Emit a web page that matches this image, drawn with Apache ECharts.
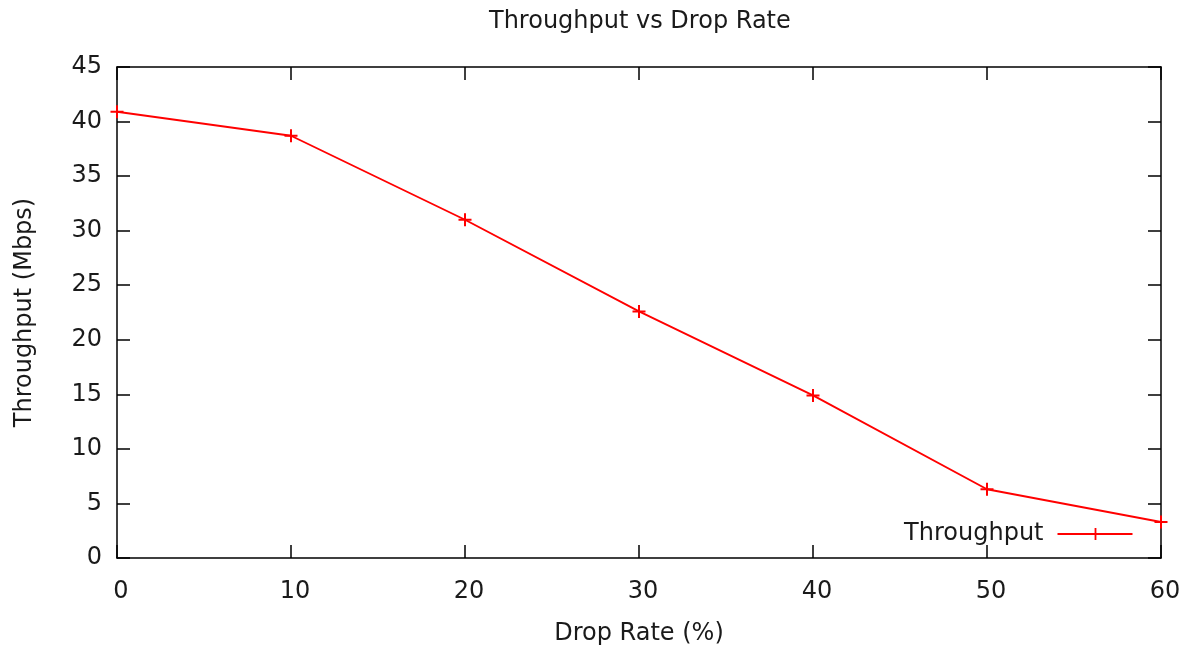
<!DOCTYPE html>
<html>
<head>
<meta charset="utf-8">
<script src="https://cdn.jsdelivr.net/npm/echarts@6/dist/echarts.min.js"></script>
<style>html,body{margin:0;padding:0;background:#fff;}#c{width:1187px;height:646px;}</style>
</head>
<body>
<div id="c"></div>
<script>
const dropRates = [0, 10, 20, 30, 40, 50, 60];
const throughput = [40.9, 38.7, 31.0, 22.6, 14.9, 6.3, 3.3];
const seriesName = 'Throughput';
const titleText = 'Throughput vs Drop Rate';
const xName = 'Drop Rate (%)';
const yName = 'Throughput (Mbps)';

const FONT = 'DejaVu Sans';
const FS = 24;
const TXT = '#1a1a1a';
const plus = 'path://M5,0 L5,10 M0,5 L10,5';
const legendIcon = 'path://M0,6 L75,6 M38,0 L38,12';
const chart = echarts.init(document.getElementById('c'));
const axisLine = { show: true, onZero: false, lineStyle: { color: '#000', width: 1.5 } };
const tick = { show: true, inside: true, length: 13, lineStyle: { color: '#000', width: 1.5 } };
chart.setOption({
  animation: false,
  backgroundColor: '#fff',
  title: { text: titleText, left: 484, top: 5, textStyle: { fontFamily: FONT, fontSize: FS, fontWeight: 'normal', color: TXT } },
  grid: { left: 117, right: 26, top: 67, bottom: 88, outerBoundsMode: 'none', containLabel: false },
  legend: {
    right: 47, bottom: 95, align: 'right', orient: 'vertical',
    itemWidth: 75, itemHeight: 12,
    textStyle: { fontFamily: FONT, fontSize: FS, color: TXT, padding: [0, 9, 0, 0] },
    data: [{ name: seriesName, icon: legendIcon,
      itemStyle: { color: 'none', borderColor: '#ff0000', borderWidth: 1.8 } }]
  },
  xAxis: [
    { type: 'value', position: 'bottom', min: 0, max: 60, interval: 10,
      name: xName, nameLocation: 'middle', nameGap: 64,
      nameTextStyle: { fontFamily: FONT, fontSize: FS, color: TXT },
      axisLine, axisTick: tick, splitLine: { show: false },
      axisLabel: { margin: 22, padding: [0, 0, 0, 8], fontFamily: FONT, fontSize: FS, color: TXT } },
    { type: 'value', position: 'top', min: 0, max: 60, interval: 10,
      axisLine, axisTick: tick, splitLine: { show: false }, axisLabel: { show: false } }
  ],
  yAxis: [
    { type: 'value', position: 'left', min: 0, max: 45, interval: 5,
      name: yName, nameLocation: 'middle', nameGap: 80,
      nameTextStyle: { fontFamily: FONT, fontSize: FS, color: TXT },
      axisLine, axisTick: tick, splitLine: { show: false },
      axisLabel: { margin: 15, fontFamily: FONT, fontSize: FS, color: TXT } },
    { type: 'value', position: 'right', min: 0, max: 45, interval: 5,
      axisLine, axisTick: tick, splitLine: { show: false }, axisLabel: { show: false } }
  ],
  series: [{
    name: seriesName, type: 'line', clip: false,
    data: dropRates.map((x, i) => [x, throughput[i]]),
    symbol: plus, symbolSize: 13, showAllSymbol: true,
    lineStyle: { color: '#ff0000', width: 1.9 },
    itemStyle: { color: 'none', borderColor: '#ff0000', borderWidth: 2 }
  }]
});
</script>
</body>
</html>
